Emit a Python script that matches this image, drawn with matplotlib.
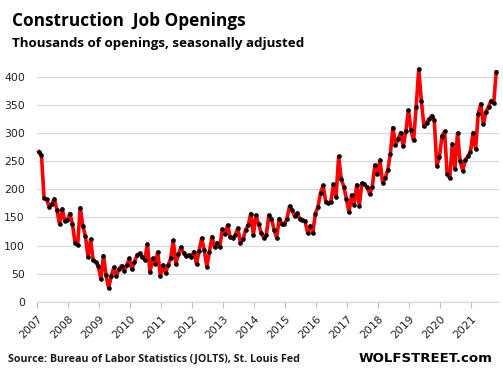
import numpy as np
import matplotlib.pyplot as plt

# monthly construction job openings (thousands), Jan 2007 - Oct 2021
openings = [
    267, 261, 185, 182, 169, 174, 183, 163, 138, 165, 144, 145,   # 2007
    157, 138, 105, 101, 167, 135, 117, 80, 111, 74, 71, 64,       # 2008
    40, 82, 47, 24, 46, 61, 46, 58, 64, 55, 65, 77,               # 2009
    58, 71, 83, 86, 80, 75, 103, 52, 77, 67, 88, 46,              # 2010
    65, 51, 65, 77, 109, 67, 85, 97, 86, 81, 83, 80,              # 2011
    89, 67, 91, 113, 92, 62, 89, 116, 97, 105, 97, 129,           # 2012
    120, 136, 116, 113, 119, 131, 104, 111, 128, 136, 157, 119,   # 2013
    154, 138, 123, 114, 119, 154, 148, 128, 114, 148, 139, 138,   # 2014
    148, 170, 163, 152, 158, 147, 146, 143, 123, 135, 123, 157,   # 2015
    169, 194, 207, 178, 176, 178, 209, 187, 259, 218, 205, 183,   # 2016
    159, 190, 173, 208, 171, 211, 209, 204, 192, 204, 243, 227,   # 2017
    252, 212, 220, 234, 263, 310, 279, 289, 301, 277, 303, 341,   # 2018
    306, 287, 347, 414, 358, 312, 319, 325, 331, 323, 242, 258,   # 2019
    295, 303, 227, 220, 281, 237, 300, 251, 233, 252, 259, 267,   # 2020
    301, 272, 334, 352, 316, 338, 347, 358, 354, 409,             # 2021
]
start_year = 2007
years = list(range(2007, 2022))
y_ticks = [0, 50, 100, 150, 200, 250, 300, 350, 400]

# month position in fractional years
x = start_year + (np.arange(len(openings)) + 0.6) / 12

fig = plt.figure(figsize=(5.03, 3.76), dpi=100)
ax = fig.add_axes([0.0742, 0.1976, 0.918, 0.5976])

ax.plot(x, openings, color='#ff0000', linewidth=2.6, marker='o',
        markersize=2.3, markerfacecolor='black', markeredgecolor='black',
        clip_on=False, zorder=3)

ax.set_xlim(2007, 2021.89)
ax.set_ylim(0, 400)
ax.set_yticks(y_ticks)
ax.set_xticks(years)
ax.set_xticklabels([str(y) for y in years], rotation=45, ha='right',
                   rotation_mode='anchor', fontsize=7.8, color='#222222')
ax.tick_params(axis='x', length=4, color='#bfbfbf', pad=5)
ax.tick_params(axis='y', length=0, labelsize=7.8, labelcolor='#222222', pad=9)
ax.grid(axis='y', color='#d9d9d9', linewidth=0.9)
ax.set_axisbelow(True)
for s in ['top', 'right', 'left']:
    ax.spines[s].set_visible(False)
ax.spines['bottom'].set_color('#d9d9d9')
ax.spines['bottom'].set_linewidth(0.9)

fig.text(0.024, 0.93, 'Construction  Job Openings', fontsize=12.4,
         fontweight='bold', family='Open Sans', color='black', va='baseline')
fig.text(0.024, 0.875, 'Thousands of openings, seasonally adjusted',
         fontsize=9.6, fontweight='bold', family='Open Sans', color='black',
         va='baseline')
fig.text(0.016, 0.038, 'Source: Bureau of Labor Statistics (JOLTS), St. Louis Fed',
         fontsize=7.7, fontweight='bold', family='Open Sans', color='#1a1a1a',
         va='baseline')
fig.text(0.98, 0.038, 'WOLFSTREET.com', fontsize=9.5, fontweight='heavy',
         family='DejaVu Sans', color='black', ha='right', va='baseline')

plt.savefig('out.png', dpi=100)
